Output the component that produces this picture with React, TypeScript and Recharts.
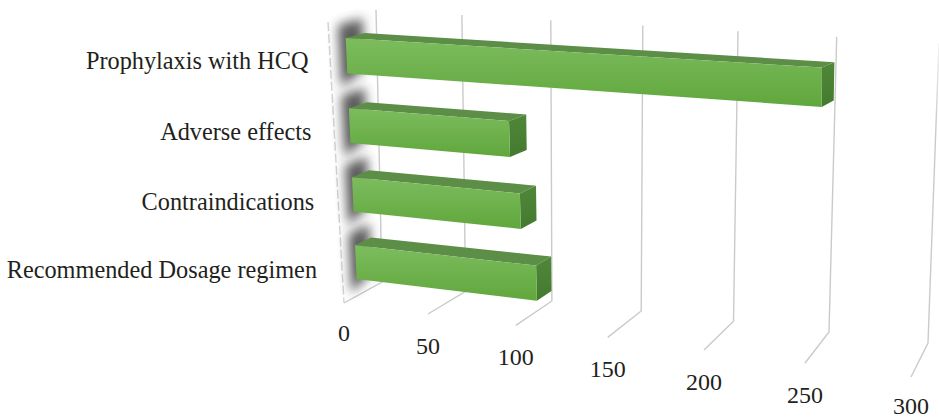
import React from "react";
import { Bar, BarChart, CartesianGrid, XAxis, YAxis } from "recharts";

const topics = ["Prophylaxis with HCQ", "Adverse effects", "Contraindications", "Recommended Dosage regimen"];
const counts = [253, 92, 97, 105];
const valueTicks = [0, 50, 100, 150, 200, 250, 300];

const rows = topics.map((topic, i) => ({ topic, count: counts[i] }));

const WIDTH = 939;
const HEIGHT = 418;
const margin = { top: 20, right: 20, bottom: 59, left: 339 };
// the axes keep one pixel each, recharts drops them at zero size
const plotLeft = margin.left + 1;
const plotW = WIDTH - plotLeft - margin.right;
const plotH = HEIGHT - margin.top - margin.bottom - 1;

// Corners of the 3D box: top-left, top-right, bottom-right, bottom-left
type Pt = [number, number];
const FRONT: Pt[] = [[328, 22], [915, 55], [911, 377], [344, 303]];
const BACK: Pt[] = [[376, 10], [939, 43], [928, 343], [382, 282]];
const BAR_FRONT = 0.35;
const BAR_BACK = 0.75;

// unit square -> quad homography
function warp(q: Pt[], u: number, v: number): Pt {
  const [[x0, y0], [x1, y1], [x2, y2], [x3, y3]] = q;
  const dx1 = x1 - x2, dx2 = x3 - x2, sx = x0 - x1 + x2 - x3;
  const dy1 = y1 - y2, dy2 = y3 - y2, sy = y0 - y1 + y2 - y3;
  const den = dx1 * dy2 - dx2 * dy1;
  const g = (sx * dy2 - dx2 * sy) / den;
  const h = (dx1 * sy - sx * dy1) / den;
  const a = x1 - x0 + g * x1, b = x3 - x0 + h * x3;
  const d = y1 - y0 + g * y1, e = y3 - y0 + h * y3;
  const w = g * u + h * v + 1;
  return [(a * u + b * v + x0) / w, (d * u + e * v + y0) / w];
}

// flat chart pixel + depth (0 front, 1 back) -> screen
function project(x: number, y: number, depth: number): Pt {
  const u = (x - plotLeft) / plotW;
  const v = (y - margin.top) / plotH;
  const f = warp(FRONT, u, v);
  const b = warp(BACK, u, v);
  return [f[0] + (b[0] - f[0]) * depth, f[1] + (b[1] - f[1]) * depth];
}

const poly = (pts: Pt[]) => pts.map((p) => p.map((n) => n.toFixed(1)).join(",")).join(" ");

function Bar3D(props: any) {
  const { x, y, width, height } = props;
  const r = x + width;
  const b = y + height;
  const ftl = project(x, y, BAR_FRONT);
  const ftr = project(r, y, BAR_FRONT);
  const fbr = project(r, b, BAR_FRONT);
  const fbl = project(x, b, BAR_FRONT);
  const btl = project(x, y, BAR_BACK);
  const btr = project(r, y, BAR_BACK);
  const bbr = project(r, b, BAR_BACK);
  // soft shadow the bar throws on the side wall
  const shadow = [
    project(x, y - height * 0.42, 0.2),
    project(x, y - height * 0.42, 0.72),
    project(x, b + height * 0.05, 0.72),
    project(x, b + height * 0.32, 0.2),
  ];
  return (
    <g>
      <polygon points={poly(shadow)} fill="#333" opacity={0.8} filter="url(#wallShadow)" />
      <polygon points={poly([ftl, btl, btr, ftr])} fill="#5d8e47" />
      <polygon points={poly([ftr, btr, bbr, fbr])} fill="url(#barSide)" />
      <polygon points={poly([ftl, ftr, fbr, fbl])} fill="url(#barFace)" />
    </g>
  );
}

// one gridline: up the back wall, then forward across the floor
function GridLine(props: any) {
  const x = props.x1;
  const floor = margin.top + plotH;
  const top = project(x, margin.top, 1);
  const corner = project(x, floor, 1);
  const front = project(x, floor, 0);
  const isZero = Math.abs(x - plotLeft) < 0.5;
  const isLast = Math.abs(x - (plotLeft + plotW)) < 0.5;
  return (
    <g fill="none" stroke={isLast ? "url(#gridFade)" : "#cacaca"} strokeWidth={1.4}>
      <polyline points={poly([top, corner, front])} />
      {isZero && (
        <polyline
          points={poly([project(x, margin.top, 0), front])}
          stroke="#d4d4d4"
          strokeDasharray="9 3"
        />
      )}
    </g>
  );
}

function ValueTick(props: any) {
  const [px, py] = project(props.x, margin.top + plotH, 0);
  const drop = props.payload.value === 0 ? 38 : 40;
  return (
    <text
      x={px}
      y={Math.min(py + drop, HEIGHT - 4)}
      textAnchor="middle"
      fontFamily="Liberation Serif"
      fontSize={24}
      fill="#231f20"
    >
      {props.payload.value}
    </text>
  );
}

function TopicTick(props: any) {
  const [px, py] = project(plotLeft, props.y, 0);
  // the labels lean a little less than the wall does
  const right = 317 - (342 - px) * 0.71;
  return (
    <text x={right} y={py + 9} textAnchor="end" fontFamily="Liberation Serif" fontSize={24.3} fill="#231f20">
      {props.payload.value}
    </text>
  );
}

export default function App() {
  return (
    <div style={{ position: "absolute", left: 0, top: 0, width: WIDTH, height: HEIGHT, background: "#fff" }}>
      <BarChart width={WIDTH} height={HEIGHT} data={rows} layout="vertical" margin={margin} barCategoryGap="25%">
        <defs>
          <linearGradient id="barFace" x1="0" y1="0" x2="0" y2="1">
            <stop offset="0%" stopColor="#7cbc5e" />
            <stop offset="100%" stopColor="#60a73c" />
          </linearGradient>
          <linearGradient id="barSide" x1="0" y1="0" x2="0" y2="1">
            <stop offset="0%" stopColor="#4f8739" />
            <stop offset="100%" stopColor="#447a2f" />
          </linearGradient>
          <linearGradient id="gridFade" gradientUnits="userSpaceOnUse" x1="0" y1="40" x2="0" y2="125">
            <stop offset="0%" stopColor="#f4f4f4" />
            <stop offset="100%" stopColor="#cacaca" />
          </linearGradient>
          <filter id="wallShadow" x="-80%" y="-40%" width="260%" height="180%">
            <feGaussianBlur stdDeviation="5.5" />
          </filter>
        </defs>
        <CartesianGrid horizontal={false} vertical={GridLine} />
        <XAxis
          type="number"
          domain={[0, 300]}
          ticks={valueTicks}
          interval={0}
          height={1}
          axisLine={false}
          tickLine={false}
          tick={ValueTick}
        />
        <YAxis
          type="category"
          dataKey="topic"
          width={1}
          interval={0}
          padding={{ top: 3, bottom: 0 }}
          axisLine={false}
          tickLine={false}
          tick={TopicTick}
        />
        <Bar dataKey="count" shape={Bar3D} isAnimationActive={false} />
      </BarChart>
    </div>
  );
}
